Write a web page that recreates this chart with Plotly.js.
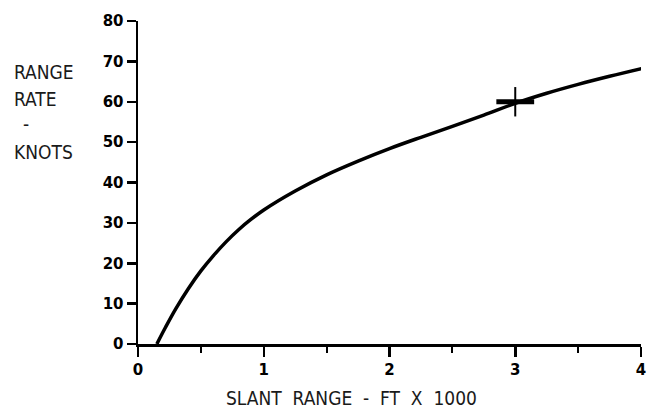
<!DOCTYPE html>
<html>
<head>
<meta charset="utf-8">
<script src="https://cdn.plot.ly/plotly-3.0.1.min.js"></script>
<style>html,body{margin:0;padding:0;background:#fff;}#chart{width:650px;height:413px;}</style>
</head>
<body>
<div id="chart"></div>
<script>
// Curve: slant range (ft x 1000) vs range rate (knots)
const slantRange = [0.15, 0.22, 0.30, 0.40, 0.50, 0.60, 0.70, 0.80, 0.90, 1.00, 1.25, 1.50, 1.75, 2.00, 2.25, 2.50, 2.75, 3.00, 3.25, 3.50, 3.75, 4.03];
const rangeRate  = [0.0,  4.2,  8.7,  13.7, 18.1, 21.9, 25.3, 28.3, 30.9, 33.2, 37.9, 41.9, 45.3, 48.4, 51.2, 53.9, 56.7, 59.6, 62.1, 64.3, 66.3, 68.4];
// Cross mark on the curve
const markX = [3];
const markY = [60];
const xTicks = [0, 1, 2, 3, 4];
const xTickText = ['0', '1', '2', '3', '4'];
const yTicks = [0, 10, 20, 30, 40, 50, 60, 70, 80];
const yTickText = ['0', '10', '20', '30', '40', '50', '60', '70', '80'];

const titleFont = {family: '"Liberation Sans Narrow", "DejaVu Sans Condensed", "Liberation Sans", sans-serif', size: 19, color: '#1a1a1a'};
const tickFont = {family: '"DejaVu Sans", sans-serif', size: 15, color: '#000', weight: 'bold'};

const traces = [
  {x: slantRange, y: rangeRate, type: 'scatter', mode: 'lines',
   line: {color: '#000', width: 3.5, shape: 'spline', smoothing: 1}, hoverinfo: 'skip', cliponaxis: false},
  {x: markX, y: markY, type: 'scatter', mode: 'markers',
   marker: {symbol: 'line-ns', size: 21, line: {color: '#000', width: 2}}, cliponaxis: false},
  {x: markX, y: markY, type: 'scatter', mode: 'markers',
   marker: {symbol: 'line-ew', size: 27, line: {color: '#000', width: 5}}, cliponaxis: false}
];

const layout = {
  width: 650, height: 413,
  margin: {l: 138, r: 9, t: 21, b: 69},
  paper_bgcolor: '#fff', plot_bgcolor: '#fff',
  showlegend: false,
  xaxis: {
    range: [0, 4], showgrid: false, zeroline: false,
    showline: true, linecolor: '#000', linewidth: 2.5,
    ticks: 'outside', ticklen: 10, tickwidth: 2.5, tickcolor: '#000',
    tickvals: xTicks, ticktext: xTickText, tickfont: tickFont,
    minor: {dtick: 0.5, tick0: 0, ticks: 'outside', ticklen: 6, tickwidth: 2, tickcolor: '#000', showgrid: false}
  },
  yaxis: {
    range: [0, 80], showgrid: false, zeroline: false,
    showline: true, linecolor: '#000', linewidth: 2.5,
    ticks: 'outside', ticklen: 9, tickwidth: 2.5, tickcolor: '#000',
    tickvals: yTicks, ticktext: yTickText, tickfont: tickFont
  },
  annotations: [
    {text: 'RANGE', xref: 'paper', yref: 'paper', x: -0.2505, y: 0.842, xanchor: 'left', yanchor: 'middle', showarrow: false, font: titleFont},
    {text: 'RATE', xref: 'paper', yref: 'paper', x: -0.2505, y: 0.7585, xanchor: 'left', yanchor: 'middle', showarrow: false, font: titleFont},
    {text: '-', xref: 'paper', yref: 'paper', x: -0.2227, y: 0.68, xanchor: 'center', yanchor: 'middle', showarrow: false, font: titleFont},
    {text: 'KNOTS', xref: 'paper', yref: 'paper', x: -0.2505, y: 0.594, xanchor: 'left', yanchor: 'middle', showarrow: false, font: titleFont},
    {text: 'SLANT  RANGE  -  FT  X  1000', xref: 'paper', yref: 'paper', x: 0.4254, y: -0.167, xanchor: 'center', yanchor: 'middle', showarrow: false, font: titleFont}
  ]
};

Plotly.newPlot('chart', traces, layout, {staticPlot: true, displayModeBar: false});
</script>
</body>
</html>
